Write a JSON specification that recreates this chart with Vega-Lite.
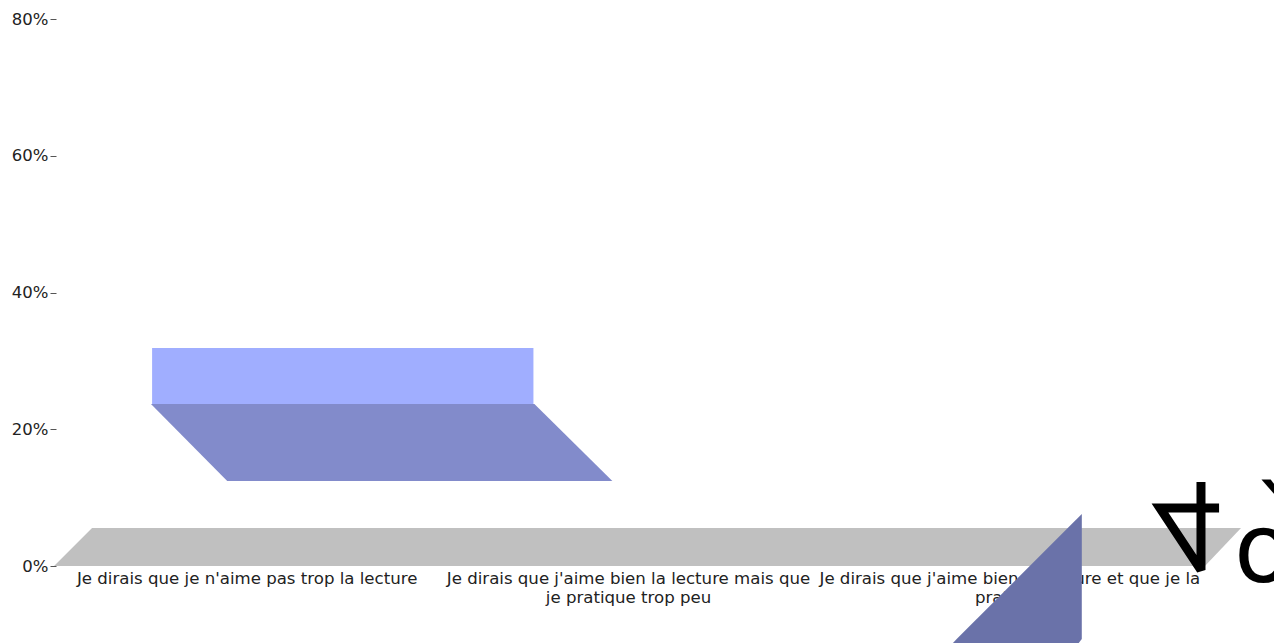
{"$schema":"https://vega.github.io/schema/vega-lite/v6.json","width":1144,"height":547,"autosize":{"type":"none"},"padding":{"left":56,"top":19,"right":74,"bottom":77},"background":"white","view":{"stroke":null},"config":{"font":"DejaVu Sans"},"layer":[{"data":{"values":[{"s":"floor","y":5.56,"x":0.0945,"x2":3.1076},{"s":"floor","y":0,"x":-0.005,"x2":3.013},{"s":"side","y":23.69,"x":0.249,"x2":1.2546},{"s":"side","y":12.43,"x":0.449,"x2":1.459},{"s":"front","y":31.88,"x":0.252,"x2":1.252},{"s":"front","y":23.69,"x":0.252,"x2":1.252},{"s":"third","y":7.6,"x":2.69,"x2":2.69},{"s":"third","y":-10.68,"x":2.362,"x2":2.69},{"s":"third","y":-11.26,"x":2.352,"x2":2.682}]},"mark":{"type":"area","orient":"horizontal","clip":false,"opacity":1},"encoding":{"y":{"field":"y","type":"quantitative","stack":null,"scale":{"domain":[0,80],"nice":false,"zero":false},"axis":{"values":[0,20,40,60,80],"labelExpr":"datum.value + '%'","title":null,"grid":false,"domain":false,"tickSize":6,"tickColor":"#555555","labelPadding":2,"labelFontSize":16.5,"labelColor":"#222222","labelFont":"DejaVu Sans"}},"x":{"field":"x","type":"quantitative","stack":null,"scale":{"domain":[0,3],"nice":false,"zero":false},"axis":{"values":[0.5,1.5,2.5],"title":null,"grid":false,"domain":false,"ticks":false,"labelPadding":4,"labelFontSize":16.6,"labelLimit":0,"labelColor":"#222222","labelFont":"DejaVu Sans","labelAngle":0,"labelAlign":"center","labelBaseline":"top","labelOverlap":false,"labelBound":false,"labelFlush":false,"labelLineHeight":19,"labelExpr":"datum.value == 0.5 ? 'Je dirais que je n\\'aime pas trop la lecture' : datum.value == 1.5 ? ['Je dirais que j\\'aime bien la lecture mais que','je pratique trop peu'] : ['Je dirais que j\\'aime bien la lecture et que je la','pratique']"}},"x2":{"field":"x2"},"color":{"field":"s","type":"nominal","legend":null,"scale":{"domain":["floor","side","front","third"],"range":["#c0c0c0","#828bcb","#a0aeff","#6a72a9"]}}}},{"data":{"values":[{"i":1,"x":3.0026,"y":12.29},{"i":2,"x":3.0026,"y":-0.6},{"i":3,"x":2.895,"y":8.48},{"i":4,"x":3.05,"y":8.48}]},"mark":{"type":"line","clip":false,"color":"black","strokeWidth":9,"strokeJoin":"miter","strokeMiterLimit":2.5,"strokeCap":"butt"},"encoding":{"x":{"field":"x","type":"quantitative"},"y":{"field":"y","type":"quantitative"},"order":{"field":"i","type":"quantitative"}}},{"data":{"values":[{"x":3.089,"y":-2.34,"t":"o"},{"x":3.14,"y":1.32,"t":"`"}]},"mark":{"type":"text","clip":false,"font":"DejaVu Sans","fontSize":96,"align":"left","baseline":"alphabetic","color":"black"},"encoding":{"x":{"field":"x","type":"quantitative"},"y":{"field":"y","type":"quantitative"},"text":{"field":"t"}}}]}
